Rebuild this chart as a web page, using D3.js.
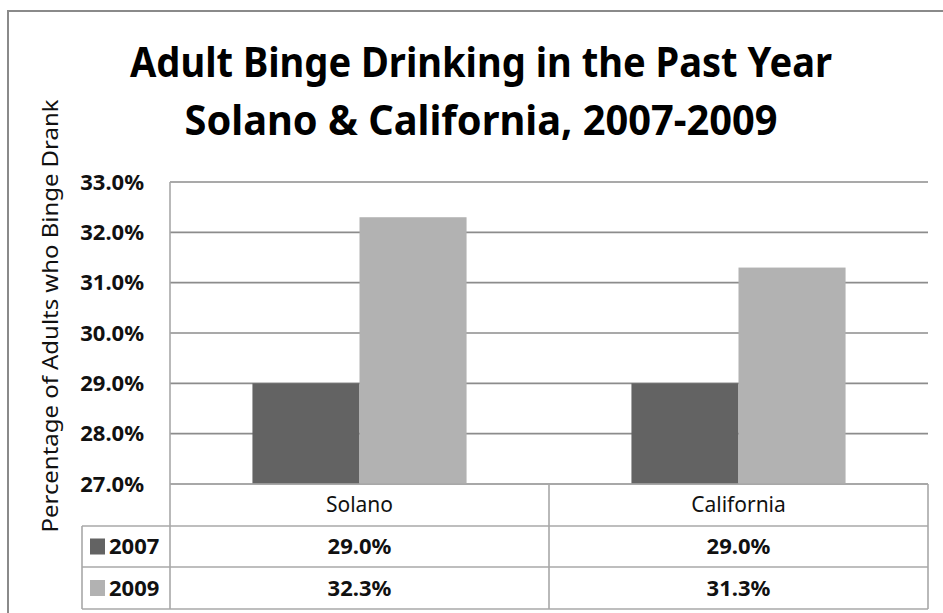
<!DOCTYPE html>
<html><head><meta charset="utf-8">
<script src="https://cdn.jsdelivr.net/npm/d3@7"></script>
<style>
html,body{margin:0;padding:0;background:#fff;}
svg{display:block;font-family:"Noto Sans","Open Sans",sans-serif;}
</style></head>
<body><svg id="c" width="943" height="613"></svg>
<script>
const categories = ["Solano", "California"];
const series = ["2007", "2009"];
const values2007 = [29.0, 29.0];
const values2009 = [32.3, 31.3];
const yTicks = [27, 28, 29, 30, 31, 32, 33];
const titleLines = ["Adult Binge Drinking in the Past Year", "Solano & California, 2007-2009"];
const yLabel = "Percentage of Adults who Binge Drank";
const colors = {"2007": "#636363", "2009": "#b2b2b2"};

const seriesValues = {"2007": values2007, "2009": values2009};
const svg = d3.select("#c");

// outer chart border (left & top visible)
svg.append("path").attr("d", "M8,613 L8,11 L943,11")
  .attr("fill", "none").attr("stroke", "#8a8a8a").attr("stroke-width", 2);

const L = 170, R = 928, T = 182, B = 484;
const x0 = d3.scaleBand().domain(categories).range([L, R]).padding(0);
const x1 = d3.scaleBand().domain(series).range([0, x0.bandwidth()]).paddingInner(0).paddingOuter(0.77);
const y = d3.scaleLinear().domain([27, 33]).range([B, T]);

// gridlines
svg.append("g").selectAll("line").data(yTicks).join("line")
  .attr("x1", L).attr("x2", R).attr("y1", d => y(d)).attr("y2", d => y(d))
  .attr("stroke", "#8c8c8c").attr("stroke-width", 1.6);

// bars
const groups = svg.append("g").selectAll("g").data(categories).join("g")
  .attr("transform", d => `translate(${x0(d)},0)`);
groups.selectAll("rect").data((c, i) => series.map(s => ({s, v: seriesValues[s][i]}))).join("rect")
  .attr("x", d => x1(d.s)).attr("width", x1.bandwidth())
  .attr("y", d => y(d.v)).attr("height", d => y(27) - y(d.v))
  .attr("fill", d => colors[d.s]);

// y axis tick labels
const yAxis = d3.axisLeft(y).tickValues(yTicks).tickSize(0).tickPadding(26)
  .tickFormat(d => d3.format(".1f")(d) + "%");
const ga = svg.append("g").attr("transform", `translate(${L},0)`).call(yAxis);
ga.select(".domain").remove();
ga.selectAll("text").attr("font-family", "'Noto Sans', sans-serif").attr("font-size", 22)
  .attr("font-weight", "bold").attr("fill", "#111");

// y axis label
svg.append("text").attr("transform", "translate(58,316) rotate(-90)")
  .attr("text-anchor", "middle").attr("font-size", 21).attr("fill", "#111")
  .attr("textLength", 433).attr("lengthAdjust", "spacingAndGlyphs")
  .text(yLabel);

// title
const titleY = [77, 135], titleW = [702, 593];
titleLines.forEach((t, i) => {
  svg.append("text").attr("x", 481).attr("y", titleY[i]).attr("text-anchor", "middle")
    .attr("font-size", 41).attr("font-weight", "bold").attr("fill", "#000")
    .attr("textLength", titleW[i]).attr("lengthAdjust", "spacingAndGlyphs")
    .text(t);
});

// data table
const rowH = [B, 526, 567, 609];
const tableX0 = 82;
const tb = svg.append("g").attr("stroke", "#a8a8a8").attr("stroke-width", 1.6);
// horizontal lines
tb.append("line").attr("x1", L).attr("x2", R).attr("y1", rowH[0]).attr("y2", rowH[0]);
[1, 2, 3].forEach(i => tb.append("line").attr("x1", tableX0).attr("x2", R).attr("y1", rowH[i]).attr("y2", rowH[i]));
// vertical lines
tb.append("line").attr("x1", L).attr("x2", L).attr("y1", T).attr("y2", rowH[3]);
tb.append("line").attr("x1", tableX0).attr("x2", tableX0).attr("y1", rowH[1]).attr("y2", rowH[3]);
categories.forEach(c => {
  const xr = x0(c) + x0.bandwidth();
  tb.append("line").attr("x1", xr).attr("x2", xr).attr("y1", rowH[0]).attr("y2", rowH[3]);
});

// header
svg.append("g").selectAll("text").data(categories).join("text")
  .attr("x", d => x0(d) + x0.bandwidth() / 2).attr("y", (rowH[0] + rowH[1]) / 2)
  .attr("dy", "0.35em").attr("text-anchor", "middle").attr("font-size", 21).attr("fill", "#111")
  .text(d => d);

// series rows
series.forEach((s, si) => {
  const cy = (rowH[si + 1] + rowH[si + 2]) / 2;
  svg.append("rect").attr("x", 90).attr("y", cy - 8).attr("width", 15).attr("height", 16).attr("fill", colors[s]);
  svg.append("text").attr("x", 109).attr("y", cy).attr("dy", "0.35em")
    .attr("font-size", 22).attr("font-weight", "bold").attr("fill", "#111").text(s);
  svg.append("g").selectAll("text").data(categories).join("text")
    .attr("x", d => x0(d) + x0.bandwidth() / 2).attr("y", cy).attr("dy", "0.35em")
    .attr("text-anchor", "middle").attr("font-size", 22).attr("font-weight", "bold").attr("fill", "#111")
    .text((d, i) => d3.format(".1f")(seriesValues[s][i]) + "%");
});
</script></body></html>
